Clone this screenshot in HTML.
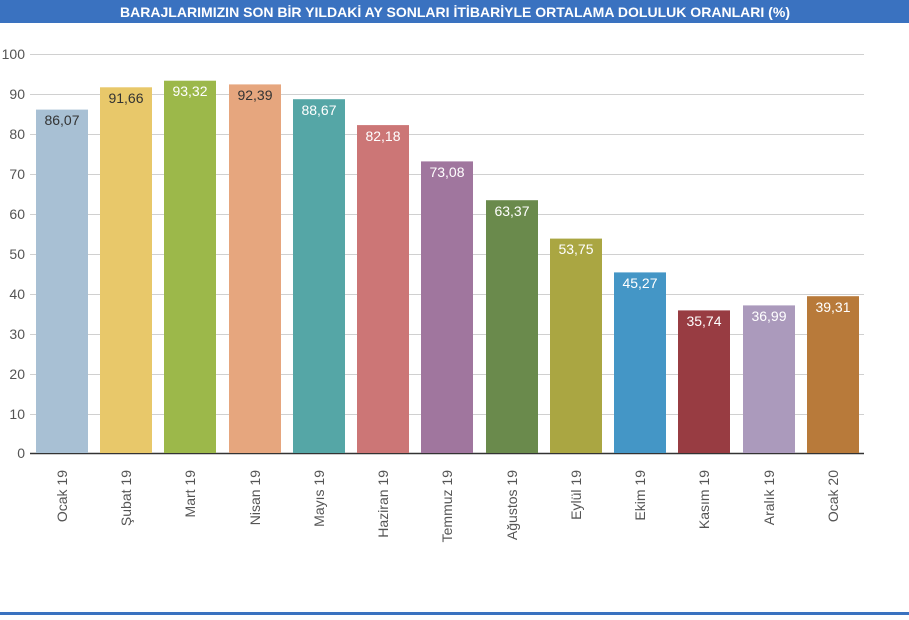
<!DOCTYPE html>
<html><head><meta charset="utf-8"><style>
body{margin:0;width:909px;height:615px;background:#fff;overflow:hidden;font-family:"Liberation Sans",sans-serif}
</style></head><body>
<svg width="909" height="615" xmlns="http://www.w3.org/2000/svg" font-family="Liberation Sans, sans-serif">
<rect x="0" y="0" width="909" height="23" fill="#3a72c0"/>
<text x="455" y="17" text-anchor="middle" fill="#fff" font-size="14" font-weight="bold" textLength="670" lengthAdjust="spacingAndGlyphs">BARAJLARIMIZIN SON BİR YILDAKİ AY SONLARI İTİBARİYLE ORTALAMA DOLULUK ORANLARI (%)</text>
<rect x="0" y="612" width="909" height="3" fill="#3a72c0"/>
<g stroke="#d0d0d0" stroke-width="1">
<line x1="30" x2="864" y1="54.5" y2="54.5"/><line x1="30" x2="864" y1="94.5" y2="94.5"/><line x1="30" x2="864" y1="134.5" y2="134.5"/><line x1="30" x2="864" y1="174.5" y2="174.5"/><line x1="30" x2="864" y1="214.5" y2="214.5"/><line x1="30" x2="864" y1="254.5" y2="254.5"/><line x1="30" x2="864" y1="294.5" y2="294.5"/><line x1="30" x2="864" y1="334.5" y2="334.5"/><line x1="30" x2="864" y1="374.5" y2="374.5"/><line x1="30" x2="864" y1="414.5" y2="414.5"/>
</g>
<g font-size="14" fill="#555" text-anchor="end">
<text x="25" y="59">100</text><text x="25" y="99">90</text><text x="25" y="139">80</text><text x="25" y="179">70</text><text x="25" y="219">60</text><text x="25" y="259">50</text><text x="25" y="299">40</text><text x="25" y="339">30</text><text x="25" y="379">20</text><text x="25" y="419">10</text><text x="25" y="458">0</text>
</g>
<line x1="30" x2="864" y1="453.5" y2="453.5" stroke="#333" stroke-width="1.5"/>
<g font-size="14">
<rect x="36" y="109.6" width="52" height="343.4" fill="#a8c0d4"/><text x="62" y="125" text-anchor="middle" fill="#333">86,07</text>
<rect x="100" y="87.3" width="52" height="365.7" fill="#e8c86a"/><text x="126" y="103" text-anchor="middle" fill="#333">91,66</text>
<rect x="164" y="80.7" width="52" height="372.3" fill="#9cb84a"/><text x="190" y="96" text-anchor="middle" fill="#fff">93,32</text>
<rect x="229" y="84.4" width="52" height="368.6" fill="#e6a67e"/><text x="255" y="100" text-anchor="middle" fill="#333">92,39</text>
<rect x="293" y="99.2" width="52" height="353.8" fill="#55a6a6"/><text x="319" y="115" text-anchor="middle" fill="#fff">88,67</text>
<rect x="357" y="125.1" width="52" height="327.9" fill="#cc7676"/><text x="383" y="141" text-anchor="middle" fill="#fff">82,18</text>
<rect x="421" y="161.4" width="52" height="291.6" fill="#a0769e"/><text x="447" y="177" text-anchor="middle" fill="#fff">73,08</text>
<rect x="486" y="200.2" width="52" height="252.8" fill="#6a8a4c"/><text x="512" y="216" text-anchor="middle" fill="#fff">63,37</text>
<rect x="550" y="238.6" width="52" height="214.4" fill="#aaa642"/><text x="576" y="254" text-anchor="middle" fill="#fff">53,75</text>
<rect x="614" y="272.4" width="52" height="180.6" fill="#4496c6"/><text x="640" y="288" text-anchor="middle" fill="#fff">45,27</text>
<rect x="678" y="310.4" width="52" height="142.6" fill="#983c42"/><text x="704" y="326" text-anchor="middle" fill="#fff">35,74</text>
<rect x="743" y="305.4" width="52" height="147.6" fill="#ab9abc"/><text x="769" y="321" text-anchor="middle" fill="#fff">36,99</text>
<rect x="807" y="296.2" width="52" height="156.8" fill="#b87a3a"/><text x="833" y="312" text-anchor="middle" fill="#fff">39,31</text>
</g>
<g font-size="14" fill="#555" text-anchor="end">
<text transform="translate(67,470) rotate(-90)">Ocak 19</text>
<text transform="translate(131,470) rotate(-90)">Şubat 19</text>
<text transform="translate(195,470) rotate(-90)">Mart 19</text>
<text transform="translate(260,470) rotate(-90)">Nisan 19</text>
<text transform="translate(324,470) rotate(-90)">Mayıs 19</text>
<text transform="translate(388,470) rotate(-90)">Haziran 19</text>
<text transform="translate(452,470) rotate(-90)">Temmuz 19</text>
<text transform="translate(517,470) rotate(-90)">Ağustos 19</text>
<text transform="translate(581,470) rotate(-90)">Eylül 19</text>
<text transform="translate(645,470) rotate(-90)">Ekim 19</text>
<text transform="translate(709,470) rotate(-90)">Kasım 19</text>
<text transform="translate(774,470) rotate(-90)">Aralık 19</text>
<text transform="translate(838,470) rotate(-90)">Ocak 20</text>
</g>
</svg>
</body></html>
